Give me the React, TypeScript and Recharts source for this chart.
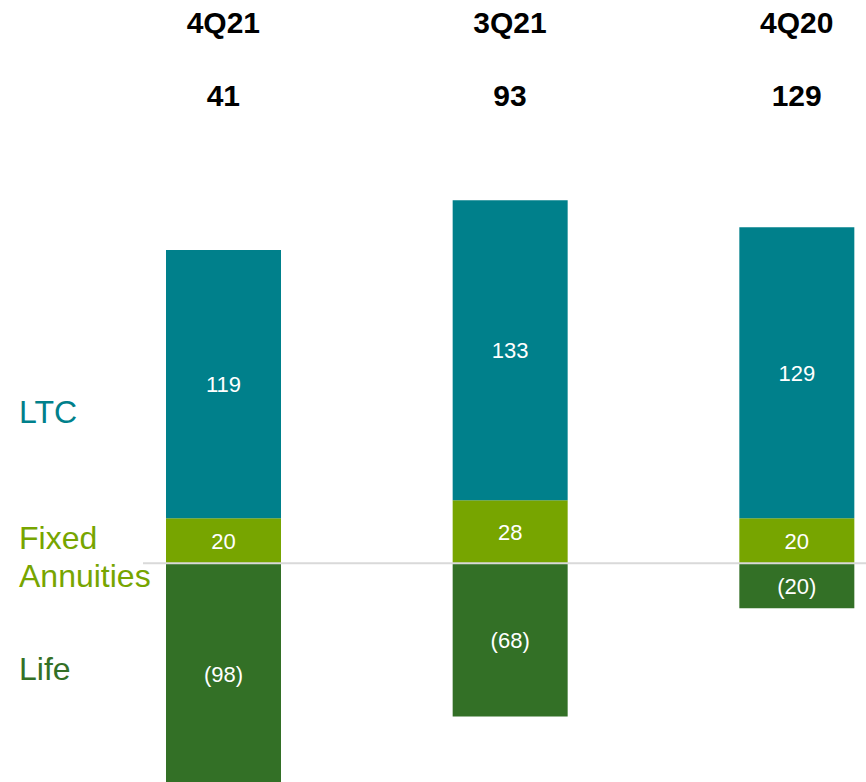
import React from "react";
import { BarChart, Bar, XAxis, YAxis, ReferenceLine, LabelList } from "recharts";

const quarters = ["4Q21", "3Q21", "4Q20"];
const ltc = [119, 133, 129];
const fixedAnnuities = [20, 28, 20];
const life = [-98, -68, -20];

const TEAL = "#00808B";
const LIME = "#77A500";
const DARK = "#337026";

const data = quarters.map((q, i) => ({
	quarter: q,
	ltc: ltc[i],
	fixed: fixedAnnuities[i],
	life: life[i],
	total: ltc[i] + fixedAnnuities[i] + life[i],
}));

const fmt = (v: any) => (Number(v) < 0 ? `(${-Number(v)})` : `${v}`);

const HeaderTick = (props: any) => {
	const { x, payload, index } = props;
	return (
		<g>
			<text x={x} y={33} textAnchor="middle" fontSize={30} fontWeight="bold" fill="#000">
				{payload.value}
			</text>
			<text x={x} y={106} textAnchor="middle" fontSize={30} fontWeight="bold" fill="#000">
				{data[index]?.total}
			</text>
		</g>
	);
};

const ZeroLine = (p: any) => (
	<line x1={143} y1={p.y1} x2={866} y2={p.y2} stroke="#d9d9d9" strokeWidth={2} />
);

const sideLabel: React.CSSProperties = {
	position: "absolute",
	left: 19,
	fontSize: 32,
	whiteSpace: "nowrap",
};

export default function App() {
	return (
		<div
			style={{
				position: "absolute",
				left: 0,
				top: 0,
				width: 866,
				height: 782,
				overflow: "hidden",
				background: "#fff",
				fontFamily: "'Liberation Sans', Arial, sans-serif",
			}}
		>
			<BarChart
				width={940}
				height={800}
				data={data}
				stackOffset="sign"
				margin={{ top: 150, right: 0, left: 80, bottom: 0 }}
				barSize={115}
			>
				<XAxis
					dataKey="quarter"
					orientation="top"
					height={30}
					axisLine={false}
					tickLine={false}
					tick={(p: any) => <HeaderTick {...p} />}
					interval={0}
				/>
				<YAxis hide domain={[-105, 170]} />
				<Bar dataKey="life" stackId="a" fill={DARK} isAnimationActive={false}>
					<LabelList dataKey="life" position="center" fill="#fff" fontSize={22} formatter={fmt} />
				</Bar>
				<Bar dataKey="fixed" stackId="a" fill={LIME} isAnimationActive={false}>
					<LabelList dataKey="fixed" position="center" fill="#fff" fontSize={22} formatter={fmt} />
				</Bar>
				<Bar dataKey="ltc" stackId="a" fill={TEAL} isAnimationActive={false}>
					<LabelList dataKey="ltc" position="center" fill="#fff" fontSize={22} formatter={fmt} />
				</Bar>
				<ReferenceLine y={0} shape={<ZeroLine />} />
			</BarChart>
			<div style={{ ...sideLabel, top: 397, lineHeight: "30px", color: TEAL }}>LTC</div>
			<div style={{ ...sideLabel, top: 519, lineHeight: "38px", color: LIME }}>
				Fixed
				<br />
				Annuities
			</div>
			<div style={{ ...sideLabel, top: 654, lineHeight: "30px", color: DARK }}>Life</div>
		</div>
	);
}
